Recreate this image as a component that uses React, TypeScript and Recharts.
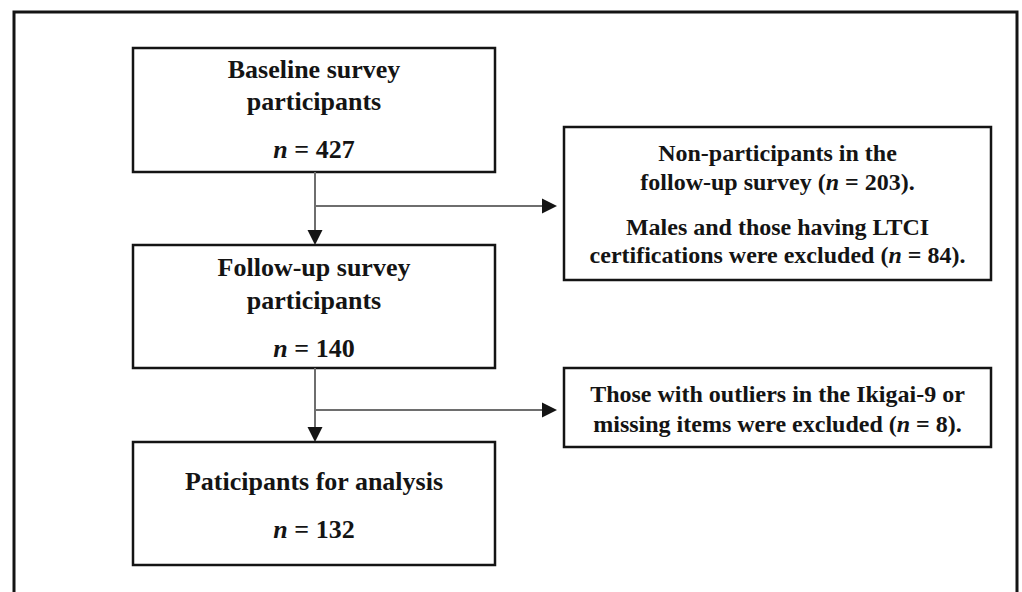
import React from 'react';
import {
  ComposedChart, XAxis, YAxis, ReferenceArea, ReferenceLine, Scatter,
} from 'recharts';

// flow stages (main column) and exclusions (side column)
const stageTitles = [
  ['Baseline survey', 'participants'],
  ['Follow-up survey', 'participants'],
  ['Paticipants for analysis'],
];
const stageCounts = [427, 140, 132];

const exclusionTexts = [
  ['Non-participants in the', 'follow-up survey (_n_ = {0}).', 'Males and those having LTCI', 'certifications were excluded (_n_ = {1}).'],
  ['Those with outliers in the Ikigai-9 or', 'missing items were excluded (_n_ = {0}).'],
];
const exclusionCounts = [[203, 84], [8]];

// layout (pixel units of the 1022x592 picture)
const W = 1022;
const H = 592;
const FONT = '"Liberation Serif", "Times New Roman", serif';
const INK = '#141414';
const LINK = '#6e6e6e';

const stageBoxes = [
  { x1: 133, x2: 495, y1: 48, y2: 172, offs: [30, 62, 110] },
  { x1: 133, x2: 495, y1: 245, y2: 368, offs: [31, 64, 112] },
  { x1: 133, x2: 495, y1: 442, y2: 565, offs: [48, 96] },
];
const sideBoxes = [
  { x1: 564, x2: 991, y1: 127, y2: 280, offs: [34, 63, 108, 136] },
  { x1: 564, x2: 991, y1: 368, y2: 447, offs: [34, 64] },
];
const trunkX = 315;
const branchY = [206, 410];
const tipX = 557;
const ARROW = 15;

function fill(s: string, vals: number[]) {
  return s.replace(/\{(\d)\}/g, (_, i) => String(vals[+i]));
}

function RichLine({ x, y, text, size }: { x: number; y: number; text: string; size: number }) {
  const parts = text.split('_');
  return (
    <text x={x} y={y} textAnchor="middle" fontFamily={FONT} fontWeight="bold" fontSize={size} fill={INK}>
      {parts.map((p, i) => (
        <tspan key={i} fontStyle={i % 2 ? 'italic' : 'normal'}>{p}</tspan>
      ))}
    </text>
  );
}

function boxLabel(lines: string[], offs: number[], size: number) {
  return (props: any) => {
    const vb = props.viewBox || {};
    const cx = vb.x + vb.width / 2;
    return (
      <g>
        {lines.map((l, i) => (
          <RichLine key={i} x={cx} y={vb.y + offs[i]} text={l} size={size} />
        ))}
      </g>
    );
  };
}

const arrowTips = [
  ...stageBoxes.slice(1).map((b) => ({ x: trunkX, y: b.y1, dir: 'down' })),
  ...branchY.map((y) => ({ x: tipX, y, dir: 'right' })),
];

function ArrowHead(props: any) {
  const { cx, cy, payload } = props;
  const h = ARROW / 2;
  const pts = payload.dir === 'down'
    ? `${cx - h},${cy - ARROW} ${cx + h},${cy - ARROW} ${cx},${cy}`
    : `${cx - ARROW},${cy - h} ${cx - ARROW},${cy + h} ${cx},${cy}`;
  return <polygon points={pts} fill={INK} />;
}

export default function App() {
  return (
    <div style={{ position: 'absolute', left: 0, top: 0, width: W, height: H, background: '#fff' }}>
      <ComposedChart width={W} height={H} margin={{ top: 0, right: 0, bottom: 0, left: 0 }}>
        <XAxis hide type="number" dataKey="x" domain={[0, W]} allowDataOverflow />
        <YAxis hide type="number" dataKey="y" domain={[0, H]} reversed allowDataOverflow />

        {/* outer frame */}
        <ReferenceArea x1={14} x2={1017} y1={12} y2={640} ifOverflow="visible"
          fill="none" fillOpacity={0} stroke={INK} strokeWidth={3} />

        {/* connectors */}
        {stageBoxes.slice(0, 2).map((b, i) => (
          <ReferenceLine key={'v' + i} segment={[{ x: trunkX, y: b.y2 }, { x: trunkX, y: stageBoxes[i + 1].y1 - ARROW + 1 }]}
            stroke={LINK} strokeWidth={2} />
        ))}
        {branchY.map((y, i) => (
          <ReferenceLine key={'h' + i} segment={[{ x: trunkX, y }, { x: tipX - ARROW + 1, y }]}
            stroke={LINK} strokeWidth={2} />
        ))}

        {stageBoxes.map((b, i) => (
          <ReferenceArea key={'s' + i} x1={b.x1} x2={b.x2} y1={b.y1} y2={b.y2}
            fill="#fff" fillOpacity={1} stroke={INK} strokeWidth={2.5}
            label={boxLabel([...stageTitles[i], `_n_ = ${stageCounts[i]}`], b.offs, 26)} />
        ))}
        {sideBoxes.map((b, i) => (
          <ReferenceArea key={'e' + i} x1={b.x1} x2={b.x2} y1={b.y1} y2={b.y2}
            fill="#fff" fillOpacity={1} stroke={INK} strokeWidth={2.5}
            label={boxLabel(exclusionTexts[i].map((t) => fill(t, exclusionCounts[i])), b.offs, 24)} />
        ))}

        <Scatter data={arrowTips} dataKey="y" shape={ArrowHead} isAnimationActive={false} />
      </ComposedChart>
    </div>
  );
}
